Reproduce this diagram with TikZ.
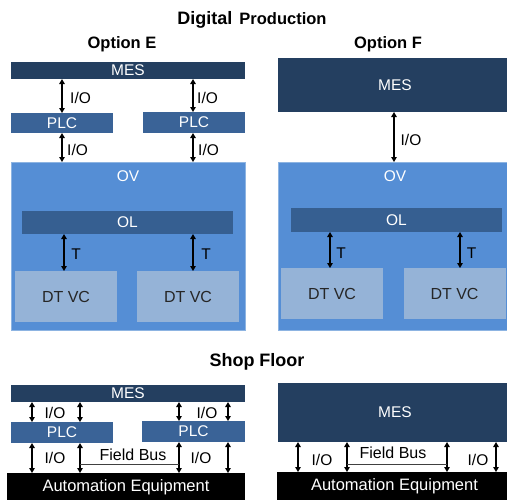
\documentclass[tikz,border=0pt]{standalone}
\usepackage{fontspec}
\setmainfont{Liberation Sans}
\usetikzlibrary{arrows.meta}
\definecolor{mesc}{HTML}{243F60}
\definecolor{plcc}{HTML}{3A6397}
\definecolor{ovc}{HTML}{558ED5}
\definecolor{olc}{HTML}{365F91}
\definecolor{dtc}{HTML}{95B3D7}
\definecolor{ovb}{HTML}{8DB4E2}
\definecolor{busc}{HTML}{404040}
\begin{document}
\begin{tikzpicture}[x=1pt,y=-1pt,
 box/.style={rectangle, inner sep=0pt, outer sep=0pt, font=\fontsize{15.5}{18}\selectfont},
 mesbox/.style={box, fill=mesc, text=white},
 plcbox/.style={box, fill=plcc, text=white},
 ovbox/.style={box, fill=ovc, draw=ovb, line width=0.8pt},
 olbox/.style={box, fill=olc, text=white},
 dtbox/.style={box, fill=dtc, text=black!85, font=\fontsize{16}{19}\selectfont, minimum width=102pt, minimum height=51pt},
 aebox/.style={box, fill=black, text=white, font=\fontsize{16.5}{19}\selectfont},
 lbl/.style={inner sep=0pt, font=\fontsize{15.5}{18}\selectfont},
 wlbl/.style={lbl, text=white},
 ttl/.style={inner sep=0pt, font=\bfseries\fontsize{16.5}{19}\selectfont},
 arr/.style={{Triangle[length=5pt,width=5.5pt]}-{Triangle[length=5pt,width=5.5pt]}, line width=1.4pt, black},
 bus/.style={line width=1pt, busc}
]
\path[use as bounding box] (0,0) rectangle (507,499);
\clip (0,0) rectangle (507,499);

% titles
\node[ttl] (title) at (252,20) {{\fontsize{18}{20}\selectfont Digital}\hspace{7pt}Production};
\node[ttl] (optE) at (122,44) {Option E};
\node[ttl] (optF) at (388,44) {Option F};
\node[ttl, font=\bfseries\fontsize{18}{20}\selectfont] (shop) at (257,362) {Shop Floor};

% ---------- Option E ----------
\node[mesbox, minimum width=234pt, minimum height=17pt] (mesE) at (128,70.5) {MES};
\node[plcbox, minimum width=102pt, minimum height=20pt] (plcE1) at (62,123) {PLC};
\node[plcbox, minimum width=102pt, minimum height=21pt] (plcE2) at (194,122.5) {PLC};
\node[ovbox, minimum width=234pt, minimum height=168pt] (ovE) at (128,246) {};
\node[wlbl] (ovEt) at (128,176) {OV};
\node[olbox, minimum width=211pt, minimum height=23pt] (olE) at (127.5,222.5) {OL};
\node[dtbox] (dtE1) at (66,296.5) {DT VC};
\node[dtbox] (dtE2) at (188,296.5) {DT VC};

\coordinate (xE1) at (62,0);
\coordinate (xE2) at (193,0);
\coordinate (xT1) at (64,0);
\coordinate (xT2) at (193,0);
\draw[arr] (mesE.south -| xE1) -- (plcE1.north -| xE1);
\draw[arr] (mesE.south -| xE2) -- (plcE2.north -| xE2);
\draw[arr] (plcE1.south -| xE1) -- (ovE.north -| xE1);
\draw[arr] (plcE2.south -| xE2) -- (ovE.north -| xE2);
\draw[arr] (olE.south -| xT1) -- (dtE1.north -| xT1);
\draw[arr] (olE.south -| xT2) -- (dtE2.north -| xT2);
\node[lbl, anchor=west] (ioE1) at (70,98) {I/O};
\node[lbl, anchor=west] (ioE2) at (197,98) {I/O};
\node[lbl, anchor=west] (ioE3) at (67,150) {I/O};
\node[lbl, anchor=west] (ioE4) at (198,150) {I/O};
\node[lbl] (tE1) at (76,254) {T};
\node[lbl] (tE2) at (206,254) {T};

% ---------- Option F ----------
\node[mesbox, minimum width=234pt, minimum height=54pt] (mesF) at (395,85) {MES};
\node[ovbox, minimum width=234pt, minimum height=168pt] (ovF) at (395,246) {};
\node[wlbl] (ovFt) at (395,176) {OV};
\node[olbox, minimum width=211pt, minimum height=24pt] (olF) at (396.5,220) {OL};
\node[dtbox] (dtF1) at (332,293.5) {DT VC};
\node[dtbox] (dtF2) at (454.5,293.5) {DT VC};

\coordinate (xF) at (394,0);
\coordinate (xF1) at (330,0);
\coordinate (xF2) at (460,0);
\draw[arr] (mesF.south -| xF) -- (ovF.north -| xF);
\draw[arr] (olF.south -| xF1) -- (dtF1.north -| xF1);
\draw[arr] (olF.south -| xF2) -- (dtF2.north -| xF2);
\node[lbl] (ioF) at (411,140) {I/O};
\node[lbl] (tF1) at (341,253) {T};
\node[lbl] (tF2) at (471.5,253) {T};

% ---------- Shop floor, left ----------
\node[mesbox, minimum width=234pt, minimum height=17pt] (mesS) at (128,393.5) {MES};
\node[plcbox, minimum width=102pt, minimum height=21pt] (plcS1) at (62,432.5) {PLC};
\node[plcbox, minimum width=103pt, minimum height=21pt] (plcS2) at (193.5,431.5) {PLC};
\node[aebox, minimum width=238pt, minimum height=28pt] (aeS) at (126,487) {Automation Equipment};

\coordinate (xS1) at (32,0);
\coordinate (xS2) at (80,0);
\coordinate (xS3) at (179,0);
\coordinate (xS4) at (228,0);
\draw[arr] (mesS.south -| xS1) -- (plcS1.north -| xS1);
\draw[arr] (mesS.south -| xS2) -- (plcS1.north -| xS2);
\draw[arr] (mesS.south -| xS3) -- (plcS2.north -| xS3);
\draw[arr] (mesS.south -| xS4) -- (plcS2.north -| xS4);
\draw[arr] (plcS1.south -| xS1) -- (aeS.north -| xS1);
\draw[arr] (plcS1.south -| xS2) -- (aeS.north -| xS2);
\draw[arr] (plcS2.south -| xS3) -- (aeS.north -| xS3);
\draw[arr] (plcS2.south -| xS4) -- (aeS.north -| xS4);
\coordinate (fbS1) at (80,464);
\coordinate (fbS2) at (179,464);
\draw[bus] (fbS1) -- (fbS2);
\node[lbl] (ioS1) at (55,413) {I/O};
\node[lbl] (ioS2) at (207,413) {I/O};
\node[lbl] (ioS3) at (55,458) {I/O};
\node[lbl] (ioS4) at (201,458) {I/O};
\node[lbl, font=\fontsize{16}{19}\selectfont] (fbSt) at (133,455) {Field Bus};

% ---------- Shop floor, right ----------
\node[mesbox, minimum width=234pt, minimum height=59pt] (mesT) at (395,412.5) {MES};
\node[aebox, minimum width=235pt, minimum height=29pt] (aeT) at (394.5,486.5) {Automation Equipment};

\coordinate (xU1) at (298,0);
\coordinate (xU2) at (347,0);
\coordinate (xU3) at (447,0);
\coordinate (xU4) at (496,0);
\draw[arr] (mesT.south -| xU1) -- (aeT.north -| xU1);
\draw[arr] (mesT.south -| xU2) -- (aeT.north -| xU2);
\draw[arr] (mesT.south -| xU3) -- (aeT.north -| xU3);
\draw[arr] (mesT.south -| xU4) -- (aeT.north -| xU4);
\coordinate (fbT1) at (347,464);
\coordinate (fbT2) at (447,464);
\draw[bus] (fbT1) -- (fbT2);
\node[lbl] (ioT1) at (322,460) {I/O};
\node[lbl] (ioT2) at (478,460) {I/O};
\node[lbl, font=\fontsize{16}{19}\selectfont] (fbTt) at (393,453) {Field Bus};
\end{tikzpicture}
\end{document}
